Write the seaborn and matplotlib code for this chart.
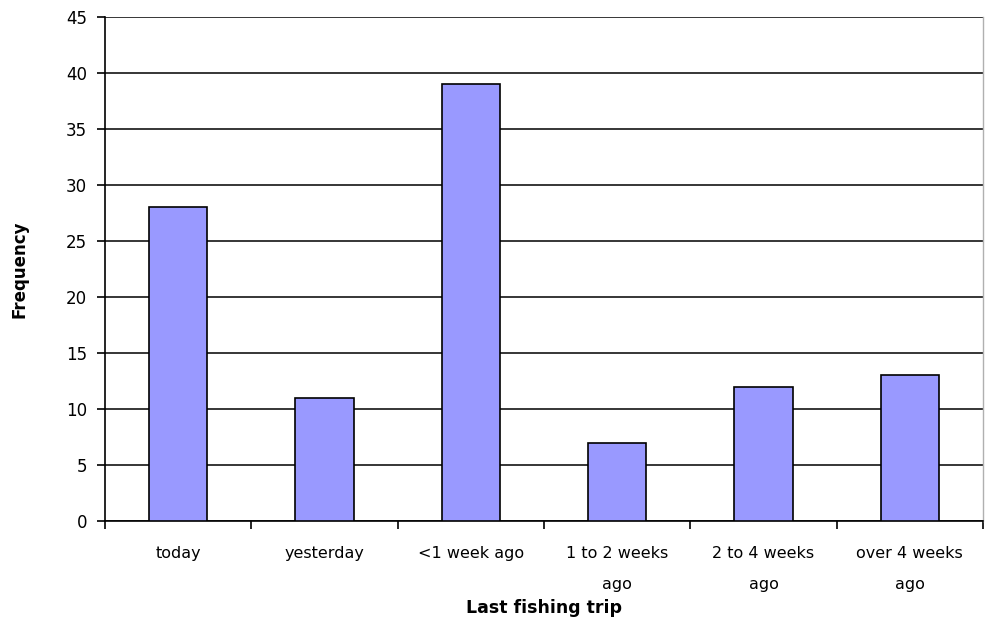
import matplotlib
matplotlib.use("Agg")
import matplotlib.pyplot as plt
import seaborn as sns
import pandas as pd
import numpy as np

# data
categories = ["today", "yesterday", "<1 week ago", "1 to 2 weeks\nago",
              "2 to 4 weeks\nago", "over 4 weeks\nago"]
frequency = [28, 11, 39, 7, 12, 13]

df = pd.DataFrame({"trip": categories, "freq": frequency})

sns.set_style("white")
plt.rcParams["font.family"] = ["DejaVu Sans"]
plt.rcParams["text.color"] = "black"
plt.rcParams["axes.labelcolor"] = "black"
plt.rcParams["xtick.color"] = "black"
plt.rcParams["ytick.color"] = "black"

fig = plt.figure(figsize=(9.85, 6.29), dpi=100)
ax = fig.add_axes([0.1066, 0.1717, 0.8914, 0.8013])

sns.barplot(data=df, x="trip", y="freq", color="#9999FF", width=0.4,
            edgecolor="black", linewidth=1.2, saturation=1, ax=ax, zorder=3)

ax.set_ylim(0, 45)
ax.set_yticks(np.arange(0, 46, 5))
ax.set_xlim(-0.5, len(categories) - 0.5)
ax.yaxis.grid(True, color="black", linewidth=1.1)
ax.set_axisbelow(True)

ax.spines["top"].set_visible(False)
ax.spines["right"].set_color("#b0b0b0")
ax.spines["right"].set_linewidth(1)
ax.spines["left"].set_color("black")
ax.spines["bottom"].set_color("black")
ax.spines["left"].set_linewidth(1.2)
ax.spines["bottom"].set_linewidth(1.2)

# category ticks drawn between bars, labels centred under bars
ax.set_xticks(np.arange(len(categories) + 1) - 0.5, minor=True)
ax.tick_params(axis="x", which="major", length=0, pad=18, labelsize=11.5)
ax.tick_params(axis="x", which="minor", length=6, width=1.2, color="black",
               direction="out", bottom=True)
ax.tick_params(axis="y", length=6, width=1.2, color="black", direction="out",
               left=True, labelsize=12, pad=7)
for lbl in ax.get_xticklabels():
    lbl.set_linespacing(2.35)
    lbl.set_verticalalignment("top")

ax.set_xlabel("Last fishing trip", fontweight="bold", fontsize=12.5, va="center")
ax.xaxis.set_label_coords(0.5, -0.173)
ax.set_ylabel("Frequency", fontweight="bold", fontsize=12, va="center")
ax.yaxis.set_label_coords(-0.097, 0.5)

fig.savefig("out.png", dpi=100)
